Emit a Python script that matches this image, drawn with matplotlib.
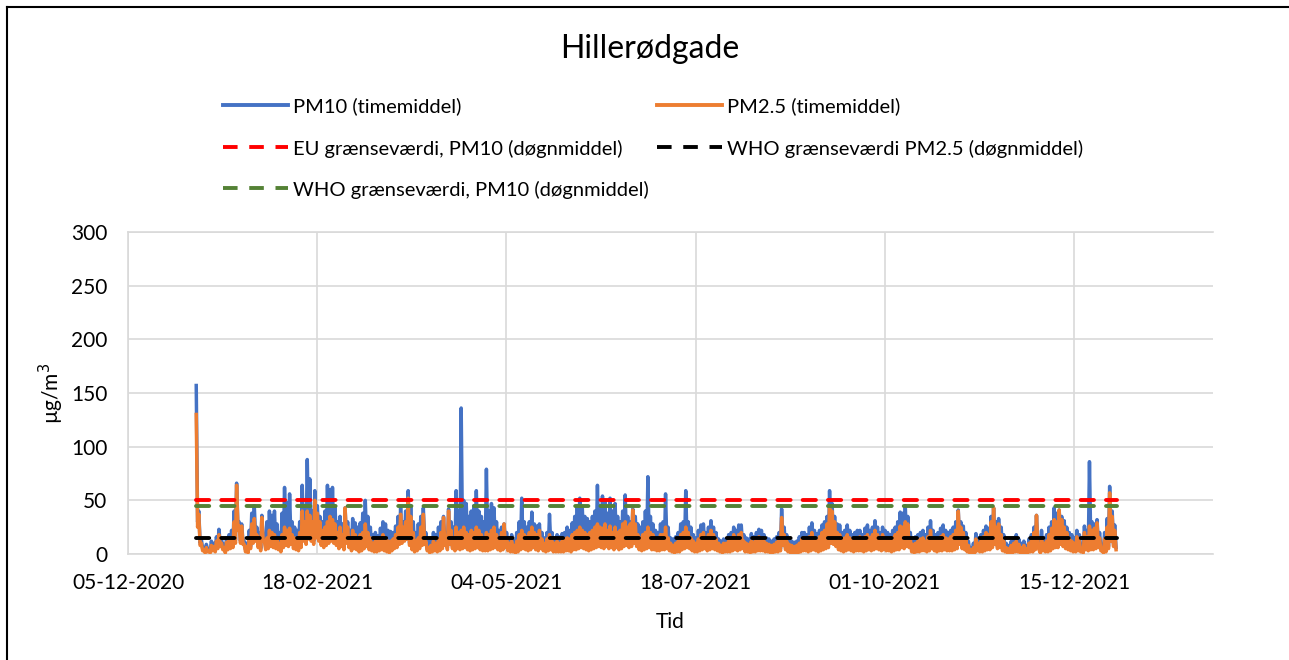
import numpy as np
import matplotlib
matplotlib.use('Agg')
import matplotlib.pyplot as plt
from matplotlib.lines import Line2D

FONT = ['Lato', 'DejaVu Sans']
W, H = 1289, 660

# daily peak and trough of the hourly means, 1 Jan - 31 Dec 2021 (ug/m3), one row per month
pm10_peak = [
    157, 40, 14, 6, 9, 5, 12, 10, 16, 23, 14, 9, 15, 18, 22, 40, 66, 30, 28, 12, 10, 22, 38, 45, 25, 20, 36, 18, 30, 40, 36,
    40, 28, 20, 38, 62, 48, 56, 30, 25, 22, 30, 64, 45, 88, 70, 40, 59, 45, 35, 30, 40, 64, 60, 62, 45, 30, 35, 28,
    43, 30, 22, 33, 29, 25, 29, 38, 50, 35, 25, 18, 20, 17, 24, 30, 28, 22, 21, 20, 26, 35, 43, 30, 40, 59, 45, 30, 20, 28, 35,
    43, 20, 12, 15, 20, 18, 25, 30, 35, 20, 42, 30, 25, 59, 40, 136, 50, 47, 35, 40, 45, 59, 40, 35, 30, 79, 40, 47, 43, 30,
    22, 25, 28, 20, 15, 18, 12, 20, 30, 52, 30, 25, 30, 39, 28, 26, 28, 20, 15, 20, 37, 20, 15, 18, 16, 19, 20, 25, 22, 29, 35,
    45, 52, 43, 35, 33, 30, 35, 40, 64, 45, 54, 50, 38, 52, 40, 47, 35, 30, 40, 55, 35, 30, 42, 35, 28, 25, 30, 40, 72, 35,
    28, 22, 20, 28, 30, 56, 25, 15, 14, 16, 20, 28, 30, 59, 30, 25, 18, 15, 22, 27, 28, 20, 25, 31, 25, 20, 14, 12, 14, 13, 18,
    20, 25, 22, 27, 27, 18, 15, 14, 19, 16, 20, 23, 22, 18, 15, 14, 12, 14, 16, 20, 42, 25, 18, 14, 12, 11, 12, 16, 20, 20, 18,
    25, 29, 22, 19, 22, 27, 30, 35, 59, 47, 35, 28, 27, 20, 22, 27, 22, 18, 20, 22, 22, 18, 24, 27, 22, 25, 31, 25, 20, 25,
    22, 20, 18, 22, 25, 30, 39, 38, 45, 35, 20, 14, 16, 18, 20, 22, 18, 25, 31, 22, 18, 20, 24, 27, 22, 20, 22, 25, 30, 41, 30,
    26, 20, 12, 6, 10, 19, 15, 18, 22, 26, 24, 35, 43, 30, 33, 25, 18, 10, 8, 12, 15, 18, 14, 10, 12, 8, 14, 18, 25, 36,
    8, 22, 15, 18, 25, 30, 43, 38, 41, 35, 31, 25, 20, 18, 15, 22, 18, 8, 26, 22, 86, 30, 28, 32, 20, 6, 20, 33, 63, 40, 27,
]
pm10_trough = [
    30, 10, 5, 3, 4, 3, 5, 4, 7, 9, 6, 3, 6, 7, 8, 13, 25, 12, 11, 4, 3, 7, 13, 15, 8, 5, 15, 6, 8, 10, 9,
    8, 6, 4, 9, 12, 10, 12, 8, 6, 5, 9, 16, 12, 18, 16, 12, 19, 15, 11, 8, 11, 14, 16, 14, 11, 7, 10, 6,
    13, 8, 5, 7, 6, 4, 5, 7, 10, 6, 5, 4, 4, 5, 6, 5, 4, 3, 5, 7, 8, 12, 13, 15, 17, 10, 6, 4, 5, 7, 10,
    12, 5, 3, 4, 5, 4, 5, 7, 10, 6, 12, 7, 6, 8, 7, 9, 10, 7, 6, 7, 8, 9, 7, 6, 6, 6, 7, 8, 9, 7,
    5, 6, 8, 5, 4, 4, 3, 4, 6, 8, 6, 5, 6, 9, 6, 5, 7, 5, 4, 5, 6, 4, 4, 4, 4, 4, 5, 5, 4, 6, 7,
    8, 9, 8, 7, 6, 7, 8, 10, 11, 9, 8, 10, 8, 9, 7, 9, 7, 8, 10, 11, 9, 10, 13, 10, 7, 6, 7, 8, 9, 7,
    6, 5, 5, 6, 6, 7, 5, 4, 3, 4, 4, 6, 7, 8, 7, 5, 4, 4, 5, 6, 7, 5, 6, 7, 6, 5, 4, 3, 4, 4, 4,
    5, 6, 5, 6, 7, 4, 4, 3, 4, 4, 5, 5, 5, 4, 4, 3, 3, 4, 4, 5, 11, 6, 4, 3, 3, 3, 3, 4, 5, 5, 4,
    5, 6, 5, 4, 5, 6, 7, 8, 13, 12, 9, 6, 5, 4, 5, 6, 5, 4, 5, 5, 5, 4, 5, 6, 5, 6, 7, 6, 5, 6,
    5, 5, 4, 5, 6, 6, 8, 7, 9, 8, 4, 3, 4, 4, 5, 5, 4, 5, 7, 5, 4, 5, 5, 6, 5, 5, 5, 6, 7, 11, 7,
    6, 4, 3, 2, 3, 5, 4, 4, 5, 6, 6, 8, 11, 7, 8, 5, 4, 3, 3, 3, 4, 4, 3, 3, 3, 3, 4, 4, 6, 10,
    3, 5, 4, 4, 5, 7, 8, 8, 11, 9, 7, 6, 5, 4, 4, 5, 4, 3, 6, 5, 6, 6, 7, 8, 5, 3, 4, 7, 14, 9, 6,
]
pm25_peak = [
    130, 37, 10, 4, 6, 3, 8, 7, 12, 18, 10, 6, 11, 13, 15, 30, 64, 26, 26, 9, 7, 15, 28, 33, 18, 12, 34, 12, 15, 22, 20,
    18, 14, 10, 18, 25, 22, 24, 18, 15, 12, 20, 40, 30, 40, 36, 30, 50, 38, 30, 22, 25, 30, 35, 32, 28, 20, 25, 18,
    43, 25, 15, 22, 18, 15, 18, 20, 28, 20, 15, 10, 12, 12, 14, 18, 15, 12, 12, 14, 18, 25, 37, 25, 30, 52, 35, 20, 12, 15, 25,
    37, 12, 6, 8, 12, 10, 14, 20, 34, 15, 40, 22, 15, 25, 20, 22, 25, 20, 18, 22, 20, 25, 22, 18, 15, 20, 18, 22, 25, 18,
    15, 20, 28, 15, 10, 12, 8, 12, 18, 22, 18, 16, 20, 25, 20, 18, 22, 14, 10, 14, 18, 12, 10, 12, 10, 12, 14, 15, 14, 18, 20,
    22, 25, 22, 20, 18, 20, 22, 25, 28, 25, 24, 28, 22, 26, 20, 25, 20, 22, 28, 30, 25, 28, 41, 28, 18, 15, 18, 20, 25, 20,
    18, 15, 14, 18, 18, 25, 15, 10, 8, 10, 12, 18, 20, 25, 20, 15, 12, 10, 14, 18, 20, 14, 18, 22, 18, 14, 10, 8, 10, 10, 12,
    14, 18, 15, 18, 20, 12, 10, 9, 12, 11, 14, 16, 15, 12, 10, 9, 8, 9, 11, 14, 34, 18, 12, 9, 8, 7, 8, 10, 14, 15, 12,
    16, 20, 15, 12, 16, 20, 22, 28, 45, 40, 30, 20, 18, 14, 15, 18, 15, 12, 14, 15, 16, 12, 16, 18, 15, 18, 22, 18, 14, 18,
    15, 14, 12, 15, 18, 20, 26, 25, 30, 28, 14, 9, 10, 12, 14, 15, 12, 16, 22, 15, 12, 14, 16, 18, 15, 14, 16, 18, 22, 40, 25,
    20, 14, 8, 4, 6, 14, 10, 12, 16, 20, 18, 30, 43, 25, 28, 18, 12, 6, 5, 8, 10, 12, 9, 6, 8, 5, 10, 12, 20, 36,
    4, 14, 10, 12, 18, 24, 32, 30, 41, 32, 25, 20, 15, 12, 10, 16, 12, 5, 20, 16, 26, 22, 24, 29, 15, 4, 14, 25, 57, 35, 22,
]
pm25_trough = [
    25, 8, 3, 1, 2, 1, 3, 2, 5, 7, 4, 1, 4, 5, 6, 10, 22, 10, 9, 2, 1, 5, 10, 12, 6, 3, 12, 4, 5, 7, 6,
    5, 4, 2, 6, 8, 7, 9, 5, 4, 3, 6, 12, 9, 14, 12, 9, 15, 12, 8, 6, 8, 10, 12, 10, 8, 5, 7, 4,
    10, 6, 3, 5, 4, 2, 3, 5, 7, 4, 3, 2, 2, 3, 4, 3, 2, 1, 3, 5, 6, 9, 10, 12, 14, 8, 4, 2, 3, 5, 8,
    9, 3, 1, 2, 3, 2, 3, 5, 8, 4, 9, 5, 3, 5, 4, 5, 6, 4, 3, 4, 5, 6, 4, 3, 3, 3, 4, 5, 6, 4,
    3, 4, 6, 3, 2, 2, 1, 2, 4, 5, 4, 3, 4, 6, 4, 3, 5, 3, 2, 3, 4, 2, 2, 2, 2, 2, 3, 3, 2, 4, 4,
    5, 6, 5, 4, 3, 4, 5, 6, 7, 6, 5, 7, 5, 6, 4, 6, 4, 5, 7, 8, 6, 7, 10, 7, 4, 3, 4, 5, 6, 4,
    4, 3, 3, 4, 4, 5, 3, 2, 1, 2, 2, 4, 5, 6, 5, 3, 2, 2, 3, 4, 5, 3, 4, 5, 4, 3, 2, 1, 2, 2, 2,
    3, 4, 3, 4, 5, 2, 2, 1, 2, 2, 3, 3, 3, 2, 2, 1, 1, 2, 2, 3, 8, 4, 2, 1, 1, 1, 1, 2, 3, 3, 2,
    3, 4, 3, 2, 3, 4, 5, 6, 10, 9, 7, 4, 3, 2, 3, 4, 3, 2, 3, 3, 3, 2, 3, 4, 3, 4, 5, 4, 3, 4,
    3, 3, 2, 3, 4, 4, 6, 5, 7, 6, 2, 1, 2, 2, 3, 3, 2, 3, 5, 3, 2, 3, 3, 4, 3, 3, 3, 4, 5, 9, 5,
    4, 2, 1, 0, 1, 3, 2, 2, 3, 4, 4, 6, 9, 5, 6, 3, 2, 1, 1, 1, 2, 2, 1, 1, 1, 1, 2, 2, 4, 8,
    1, 3, 2, 2, 3, 5, 6, 6, 9, 7, 5, 4, 3, 2, 2, 3, 2, 1, 4, 3, 4, 4, 5, 6, 3, 1, 2, 5, 12, 7, 4,
]

eu_pm10 = 50
who_pm10 = 45
who_pm25 = 15

tick_dates = ['2020-12-05', '2021-02-18', '2021-05-04', '2021-07-18', '2021-10-01', '2021-12-15']
tick_labels = ['05-12-2020', '18-02-2021', '04-05-2021', '18-07-2021', '01-10-2021', '15-12-2021']

BLUE = '#4472C4'
ORANGE = '#ED7D31'
RED = '#FF0000'
GREEN = '#548235'
GRID = '#D9D9D9'

start = np.datetime64('2021-01-01T00', 'h')
n_days = len(pm10_peak)
for arr in (pm10_trough, pm25_peak, pm25_trough):
    assert len(arr) == n_days, len(arr)

hours = np.arange(n_days) * 24
t = np.empty(2 * n_days, dtype='datetime64[h]')
t[0::2] = start + (hours + 1).astype('timedelta64[h]')
t[1::2] = start + (hours + 14).astype('timedelta64[h]')


def interleave(peak, trough):
    v = np.empty(2 * len(peak))
    v[0::2] = peak
    v[1::2] = trough
    return v


pm10 = interleave(pm10_peak, pm10_trough)
pm25 = interleave(pm25_peak, pm25_trough)
t_span = [start, start + np.timedelta64(24 * n_days, 'h')]

fig = plt.figure(figsize=(W / 100, H / 100), dpi=100)
ax = fig.add_axes([128 / W, 1 - 554 / H, (1213 - 128) / W, (554 - 232) / H])

ax.plot(t, pm10, color=BLUE, lw=2.5, solid_joinstyle='round', zorder=3)
ax.plot(t, pm25, color=ORANGE, lw=2.5, solid_joinstyle='round', zorder=4)

dash = dict(lw=2.8, dashes=(3.4, 3.1), dash_capstyle='round', zorder=5)
ax.plot(t_span, [eu_pm10] * 2, color=RED, **dash)
ax.plot(t_span, [who_pm10] * 2, color=GREEN, **dash)
ax.plot(t_span, [who_pm25] * 2, color='black', **dash)

ax.set_xlim(np.datetime64('2020-12-05'), np.datetime64('2022-02-08'))
ax.set_ylim(0, 300)
ax.set_xticks([np.datetime64(d) for d in tick_dates])
ax.set_xticklabels(tick_labels)
ax.set_yticks(np.arange(0, 301, 50))
ax.tick_params(length=0, labelsize=15, colors='black')
ax.tick_params(axis='x', pad=14)
ax.tick_params(axis='y', pad=15)
for lab in ax.get_xticklabels() + ax.get_yticklabels():
    lab.set_family(FONT)

ax.grid(True, color=GRID, lw=1.2, zorder=0)
ax.set_axisbelow(True)
for side in ['left', 'bottom', 'top']:
    ax.spines[side].set_color(GRID)
    ax.spines[side].set_linewidth(1.2)
ax.spines['right'].set_visible(False)

ax.set_xlabel('Tid', family=FONT, fontsize=15, labelpad=13)
ax.set_ylabel('µg/m$^3$', family=FONT, fontsize=15)
ax.yaxis.set_label_coords((66 - 128) / (1213 - 128), 0.5)

fig.text(650 / W, 1 - 49 / H, 'Hillerødgade', ha='center', va='center',
         family=FONT, fontsize=23)

# legend, drawn by hand in two columns
legend_rows = [
    (223, 105, BLUE, None, 'PM10 (timemiddel)'),
    (657, 105, ORANGE, None, 'PM2.5 (timemiddel)'),
    (223, 147, RED, (3.75, 3.0), 'EU grænseværdi, PM10 (døgnmiddel)'),
    (657, 147, 'black', (3.75, 3.0), 'WHO grænseværdi PM2.5 (døgnmiddel)'),
    (223, 188, GREEN, (3.75, 3.0), 'WHO grænseværdi, PM10 (døgnmiddel)'),
]
for x0, y0, col, dashes, label in legend_rows:
    kw = dict(color=col, lw=2.8, transform=fig.transFigure)
    if dashes:
        kw['dashes'] = dashes
    fig.add_artist(Line2D([x0 / W, (x0 + 65) / W], [1 - y0 / H] * 2, **kw))
    fig.text((x0 + 70) / W, 1 - y0 / H, label, ha='left', va='center_baseline',
             family=FONT, fontsize=14.5)

# chart area outline (top and left edges)
fig.add_artist(Line2D([7 / W, 1], [1 - 7 / H] * 2, color='black', lw=1.5,
                      transform=fig.transFigure))
fig.add_artist(Line2D([7 / W] * 2, [0, 1 - 7 / H], color='black', lw=1.5,
                      transform=fig.transFigure))

fig.savefig('out.png', dpi=100)
